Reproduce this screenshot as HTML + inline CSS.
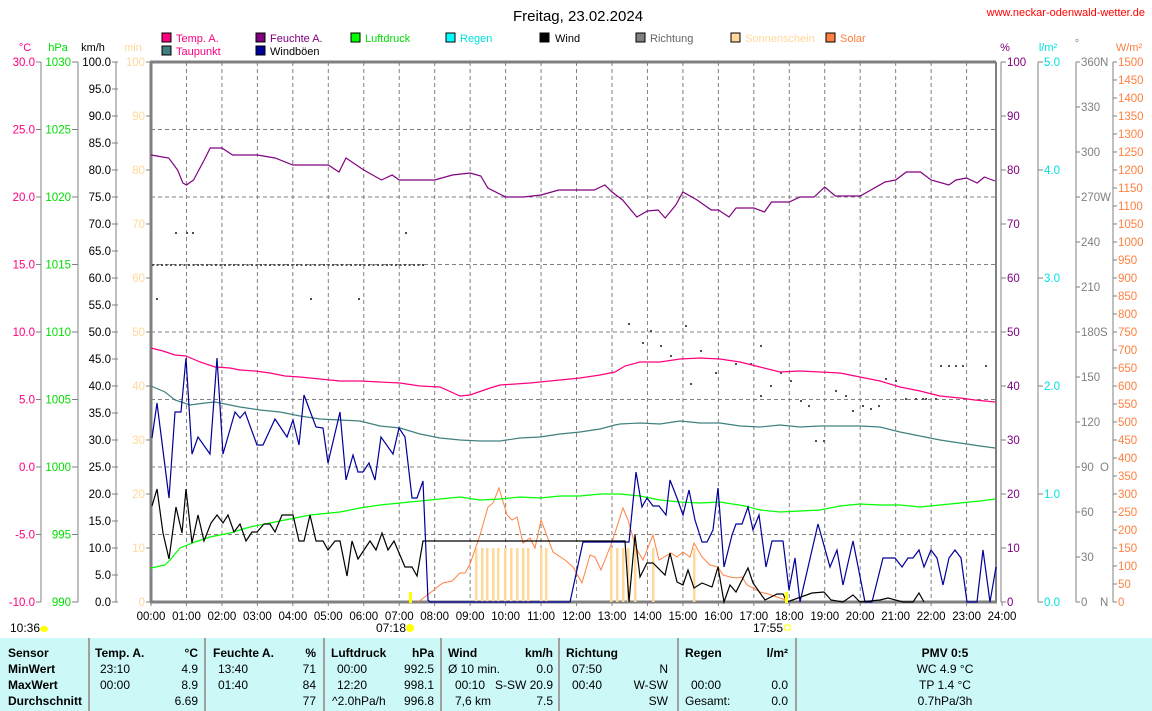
<!DOCTYPE html>
<html><head><meta charset="utf-8"><style>
html,body{margin:0;padding:0;background:#fff;}
svg{display:block;font-family:"Liberation Sans",sans-serif;}
</style></head><body>
<svg id="s" width="1152" height="711" viewBox="0 0 1152 711" xmlns="http://www.w3.org/2000/svg">
<rect width="1152" height="711" fill="#fff"/>
<text x="578" y="21" font-size="15" text-anchor="middle" fill="#000">Freitag, 23.02.2024</text>
<text x="1145" y="16" font-size="11" text-anchor="end" fill="#ff0000">www.neckar-odenwald-wetter.de</text>
<g font-size="11">
<rect x="162" y="33" width="9" height="9" fill="#ff0080" stroke="#000"/><text x="176" y="42" fill="#ff0080">Temp. A.</text>
<rect x="162" y="46" width="9" height="9" fill="#408080" stroke="#000"/><text x="176" y="55" fill="#ff0080">Taupunkt</text>
<rect x="256" y="33" width="9" height="9" fill="#800080" stroke="#000"/><text x="270" y="42" fill="#800080">Feuchte A.</text>
<rect x="256" y="46" width="9" height="9" fill="#000099" stroke="#000"/><text x="270" y="55" fill="#000">Windböen</text>
<rect x="351" y="33" width="9" height="9" fill="#00ff00" stroke="#000"/><text x="365" y="42" fill="#00dd00">Luftdruck</text>
<rect x="446" y="33" width="9" height="9" fill="#00ffff" stroke="#000"/><text x="460" y="42" fill="#00e0e0">Regen</text>
<rect x="540" y="33" width="9" height="9" fill="#000" stroke="#000"/><text x="555" y="42" fill="#000">Wind</text>
<rect x="636" y="33" width="9" height="9" fill="#808080" stroke="#000"/><text x="650" y="42" fill="#666">Richtung</text>
<rect x="731" y="33" width="9" height="9" fill="#ffd89a" stroke="#000"/><text x="745" y="42" fill="#ffd89a">Sonnenschein</text>
<rect x="826" y="33" width="9" height="9" fill="#ff8040" stroke="#000"/><text x="840" y="42" fill="#ff8040">Solar</text>
</g>
<g font-size="11">
<text x="25" y="51" text-anchor="middle" fill="#ff0080">°C</text>
<text x="58" y="51" text-anchor="middle" fill="#00dd00">hPa</text>
<text x="93" y="51" text-anchor="middle" fill="#000">km/h</text>
<text x="133" y="51" text-anchor="middle" fill="#ffd89a">min</text>
<text x="1005" y="51" text-anchor="middle" fill="#800080">%</text>
<text x="1048" y="51" text-anchor="middle" fill="#00e0e0">l/m²</text>
<text x="1077" y="47" text-anchor="middle" fill="#808080">°</text>
<text x="1129" y="51" text-anchor="middle" fill="#ff8040">W/m²</text>
</g>
<g id="grid"></g>
<g id="axes" font-size="11.5"></g>
<g id="data"></g>
<g font-size="12" fill="#000">
<text x="10" y="632">10:36</text><ellipse cx="44" cy="629" rx="4" ry="3" fill="#ffff00"/>
<text x="376" y="632">07:18</text><circle cx="410" cy="628" r="4" fill="#ffff00"/>
<text x="753" y="632">17:55</text><rect x="785" y="625" width="5" height="5" fill="none" stroke="#ffff00"/>
<rect x="409" y="592" width="3" height="11" fill="#ffff00"/>
<rect x="785" y="592" width="3" height="11" fill="#ffff00"/>
</g>
<g id="table"></g>
</svg>
<script>
const NS="http://www.w3.org/2000/svg";
function el(p,t,a,txt){const e=document.createElementNS(NS,t);for(const k in a)e.setAttribute(k,a[k]);if(txt!==undefined)e.textContent=txt;p.appendChild(e);return e;}
const G=document.getElementById('grid'),A=document.getElementById('axes'),D=document.getElementById('data'),T=document.getElementById('table');
const X0=151,HW=35.46,Y0=602,Y1=62;
const hx=h=>X0+HW*h;
for(let i=1;i<8;i++){const y=Y0-67.5*i;el(G,'line',{x1:X0,x2:995,y1:y,y2:y,stroke:'#808080','stroke-dasharray':'4,3'});}
for(let i=1;i<24;i++){const x=hx(i);el(G,'line',{x1:x,x2:x,y1:Y1,y2:Y0,stroke:'#808080','stroke-dasharray':'4,3'});}
el(G,'line',{x1:X0-1,x2:996,y1:Y1,y2:Y1,stroke:'#808080','stroke-width':3});
el(G,'line',{x1:X0,x2:X0,y1:Y1,y2:Y0,stroke:'#808080','stroke-width':3});
el(G,'line',{x1:X0-1,x2:997,y1:Y0,y2:Y0,stroke:'#808080','stroke-width':3});
el(G,'line',{x1:996,x2:996,y1:Y1,y2:Y0,stroke:'#808080','stroke-width':2});
for(let i=0;i<=24;i++){const x=hx(i);el(A,'line',{x1:x,x2:x,y1:Y0,y2:Y0+4,stroke:'#808080'});el(A,'text',{x:x,y:620,'text-anchor':'middle',fill:'#000'},(i<10?'0':'')+i+':00');}
el(A,'line',{x1:41,x2:41,y1:Y1,y2:Y0,stroke:'#808080'});
for(let i=0;i<=8;i++){const y=Y0-67.5*i;el(A,'line',{x1:36,x2:41,y1:y,y2:y,stroke:'#808080'});el(A,'text',{x:35,y:y+4,'text-anchor':'end',fill:'#ff0080'},(-10+5*i).toFixed(1));}
el(A,'line',{x1:78,x2:78,y1:Y1,y2:Y0,stroke:'#808080'});
for(let i=0;i<=8;i++){const y=Y0-67.5*i;el(A,'line',{x1:72,x2:78,y1:y,y2:y,stroke:'#808080'});el(A,'text',{x:71,y:y+4,'text-anchor':'end',fill:'#00dd00'},990+5*i);}
el(A,'line',{x1:116,x2:116,y1:Y1,y2:Y0,stroke:'#808080'});
for(let i=0;i<=20;i++){const y=Y0-27*i;el(A,'line',{x1:112,x2:118,y1:y,y2:y,stroke:'#808080'});el(A,'text',{x:111,y:y+4,'text-anchor':'end',fill:'#000'},(5*i).toFixed(1));}
for(let i=0;i<=10;i++){const y=Y0-54*i;el(A,'line',{x1:146,x2:150,y1:y,y2:y,stroke:'#808080'});el(A,'text',{x:145,y:y+4,'text-anchor':'end',fill:'#ffd89a'},10*i);}
el(A,'line',{x1:1001,x2:1001,y1:Y1,y2:Y0,stroke:'#808080'});
for(let i=0;i<=10;i++){const y=Y0-54*i;el(A,'line',{x1:1001,x2:1006,y1:y,y2:y,stroke:'#808080'});el(A,'text',{x:1007,y:y+4,fill:'#800080'},10*i);}
el(A,'line',{x1:1038,x2:1038,y1:Y1,y2:Y0,stroke:'#808080'});
for(let i=0;i<=5;i++){const y=Y0-108*i;el(A,'line',{x1:1038,x2:1043,y1:y,y2:y,stroke:'#808080'});el(A,'text',{x:1044,y:y+4,fill:'#00e0e0'},i.toFixed(1));}
el(A,'line',{x1:1076,x2:1076,y1:Y1,y2:Y0,stroke:'#808080'});
const dirs={0:'N',3:'O',6:'S',9:'W',12:'N'};
for(let i=0;i<=12;i++){const y=Y0-45*i;el(A,'line',{x1:1076,x2:1080,y1:y,y2:y,stroke:'#808080'});el(A,'text',{x:1081,y:y+4,fill:'#808080'},30*i);if(dirs[i])el(A,'text',{x:1100,y:y+4,fill:'#808080'},dirs[i]);}
el(A,'line',{x1:1113,x2:1113,y1:Y1,y2:Y0,stroke:'#808080'});
for(let i=0;i<=30;i++){const y=Y0-18*i;el(A,'line',{x1:1113,x2:1117,y1:y,y2:y,stroke:'#808080'});el(A,'text',{x:1118,y:y+4,fill:'#ff8040'},50*i);}
[476,482,487,493,498,505,511,517,523,528,541,546,611,617,623,628,635,653,694].forEach(x=>el(D,'rect',{x:x-1,y:548,width:2.5,height:54,fill:'#ffd89a'}));
const dots=[];
for(let x=152;x<425;x+=4.5)dots.push([x,264]);
[[156,298],[175,232],[186,232],[192,232],[310,298],[358,298],[405,232],[628,323],[642,342],[650,330],[660,345],[670,355],[685,325],[700,350],[715,372],[690,383],[735,363],[750,363],[760,395],[770,385],[780,372],[790,380],[800,400],[808,405],[815,440],[823,440],[835,390],[845,395],[852,410],[862,405],[870,408],[878,405],[885,378],[895,380],[905,398],[915,398],[925,398],[940,365],[948,365],[955,365],[962,365],[985,365],[922,398],[935,398],[760,345]].forEach(d=>dots.push(d));
dots.forEach(d=>el(D,'rect',{x:d[0],y:d[1],width:2,height:2,fill:'#505050'}));
function pl(pts,col,w){el(D,'polyline',{points:pts.map(p=>p.join(',')).join(' '),fill:'none',stroke:col,'stroke-width':w||1.2});}
function plh(arr,col){const pts=[];for(let i=0;i<arr.length;i+=2)pts.push([hx(arr[i]),arr[i+1]]);pl(pts,col);}
pl([[418,602],[430,593],[440,585],[443,583],[452,581],[460,573],[465,573],[470,564],[480,535],[488,507],[493,503],[499,488],[507,515],[512,520],[517,517],[523,543],[530,538],[535,548],[541,520],[553,552],[565,560],[573,567],[582,583],[590,555],[595,557],[601,570],[612,542],[623,508],[628,520],[636,548],[643,560],[653,535],[659,560],[671,553],[677,557],[683,552],[690,557],[694,543],[702,557],[710,565],[718,567],[723,575],[730,577],[737,578],[742,577],[747,585],[753,588],[760,592],[768,594],[777,597],[786,600]],'#ff8040',1);
pl([[151,568],[165,565],[170,560],[180,548],[195,542],[210,537],[230,533],[250,527],[270,523],[290,519],[310,515],[320,514],[340,512],[360,508],[380,505],[400,503],[420,501],[440,499],[460,497],[480,500],[500,499],[520,497],[540,498],[560,496],[580,496],[600,494],[620,494],[640,496],[660,500],[680,502],[700,503],[720,502],[745,506],[760,510],[780,512],[800,511],[820,510],[840,506],[860,504],[880,505],[900,505],[920,507],[940,505],[960,503],[980,501],[995,499]],'#00ff00');
pl([[151,386],[165,392],[175,400],[190,405],[205,403],[215,402],[225,404],[240,407],[260,410],[280,412],[300,416],[320,419],[340,420],[360,421],[380,426],[400,428],[420,434],[440,438],[460,440],[480,441],[500,441],[520,438],[540,437],[560,434],[580,432],[600,429],[615,425],[620,424],[640,423],[660,424],[680,421],[700,423],[720,423],[740,426],[760,427],[780,425],[800,427],[820,426],[840,426],[860,426],[880,427],[900,432],[920,436],[940,440],[960,443],[980,446],[995,448]],'#408080');
pl([[151,348],[163,351],[175,355],[186,356],[200,362],[215,367],[230,368],[240,370],[255,371],[270,373],[285,376],[300,377],[320,379],[340,381],[360,381],[380,382],[400,383],[420,386],[440,387],[460,396],[470,395],[490,388],[500,385],[530,383],[560,380],[580,378],[600,375],[615,372],[625,366],[640,362],[660,362],[680,359],[700,358],[720,359],[740,362],[760,367],[780,372],[800,371],[820,372],[840,373],[860,377],[880,381],[900,387],[920,391],[940,396],[960,398],[975,400],[995,402]],'#ff0080');
plh([0,155,0.5,158,0.75,170,0.9,183,1.0,185,1.2,180,1.5,160,1.67,148,2.0,148,2.3,155,3.0,155,3.5,158,4.0,165,4.5,165,5.0,165,5.3,172,5.5,158,6.0,170,6.5,180,6.8,175,7.0,180,8.0,180,8.5,175,9.0,173,9.3,176,9.5,188,10.0,197,10.5,197,11.0,195,11.5,190,12.0,190,12.5,190,12.8,185,13.0,192,13.3,200,13.7,217,14.0,211,14.3,210,14.5,218,14.8,205,15.0,192,15.4,200,15.8,210,16.0,210,16.3,217,16.5,208,17.0,208,17.3,212,17.5,202,18.0,202,18.3,197,18.7,197,19.0,187,19.3,196,19.6,196,20.0,196,20.3,190,20.7,182,21.0,180,21.3,172,21.7,172,22.0,180,22.5,185,22.7,180,23.0,178,23.3,183,23.5,177,23.8,181],'#800080');
pl([[152,438],[157,403],[169,498],[175,412],[181,412],[186,358],[192,454],[198,437],[210,454],[217,358],[223,454],[235,412],[240,418],[245,412],[257,445],[263,445],[275,419],[287,437],[293,420],[299,445],[304,395],[316,427],[323,428],[328,463],[340,412],[346,480],[353,455],[358,472],[363,472],[369,463],[375,480],[381,437],[393,454],[399,428],[405,437],[412,498],[417,498],[423,481],[428,600],[430,602],[570,602],[583,542],[629,542],[636,472],[642,507],[647,498],[653,506],[659,506],[666,515],[670,480],[677,498],[683,515],[689,490],[695,520],[702,542],[707,542],[713,530],[718,488],[724,567],[732,535],[736,524],[742,524],[748,507],[753,530],[759,515],[766,567],[772,541],[783,541],[789,590],[795,558],[800,602],[818,524],[830,567],[837,550],[843,585],[853,541],[865,602],[872,602],[883,558],[895,558],[902,567],[908,558],[913,558],[919,550],[924,567],[931,550],[937,558],[943,585],[949,558],[955,550],[961,558],[967,602],[977,602],[983,550],[990,602],[996,567]],'#000099');
pl([[152,506],[157,489],[163,533],[169,559],[176,507],[182,533],[186,489],[192,543],[198,515],[204,541],[211,523],[217,515],[223,523],[228,515],[234,532],[240,524],[246,541],[252,532],[257,532],[264,524],[270,524],[275,532],[282,515],[293,515],[299,541],[304,541],[310,515],[316,541],[323,541],[328,550],[335,541],[340,541],[347,576],[352,541],[358,559],[364,550],[370,541],[376,550],[382,533],[388,550],[394,541],[405,567],[412,567],[417,576],[423,541],[625,541],[629,602],[635,535],[640,577],[647,563],[653,563],[665,575],[670,553],[677,582],[683,585],[688,570],[694,588],[702,583],[712,587],[718,567],[724,602],[730,585],[736,592],[748,568],[753,583],[765,600],[777,594],[783,594],[787,602],[812,593],[824,592],[831,600],[843,602],[853,595],[860,602],[880,600],[888,598],[903,602],[913,602],[919,593],[924,602]],'#000',1.2);
el(T,'rect',{x:0,y:638,width:1152,height:73,fill:'#ccf8f8'});
[89,205,324,441,559,678,796].forEach(x=>el(T,'rect',{x:x-1,y:638,width:2,height:73,fill:'#a0a0a0'}));
const rows=[657,673,689,705];
function t(x,r,s,opt){const a={x:x,y:rows[r],'font-size':12,fill:'#000'};if(opt&&opt.b)a['font-weight']='bold';if(opt&&opt.e)a['text-anchor']='end';if(opt&&opt.m)a['text-anchor']='middle';el(T,'text',a,s);}
t(8,0,'Sensor',{b:1});t(8,1,'MinWert',{b:1});t(8,2,'MaxWert',{b:1});t(8,3,'Durchschnitt',{b:1});
t(95,0,'Temp. A.',{b:1});t(198,0,'°C',{b:1,e:1});t(100,1,'23:10');t(198,1,'4.9',{e:1});t(100,2,'00:00');t(198,2,'8.9',{e:1});t(198,3,'6.69',{e:1});
t(213,0,'Feuchte A.',{b:1});t(316,0,'%',{b:1,e:1});t(218,1,'13:40');t(316,1,'71',{e:1});t(218,2,'01:40');t(316,2,'84',{e:1});t(316,3,'77',{e:1});
t(331,0,'Luftdruck',{b:1});t(434,0,'hPa',{b:1,e:1});t(337,1,'00:00');t(434,1,'992.5',{e:1});t(337,2,'12:20');t(434,2,'998.1',{e:1});t(332,3,'^2.0hPa/h');t(434,3,'996.8',{e:1});
t(448,0,'Wind',{b:1});t(553,0,'km/h',{b:1,e:1});t(448,1,'Ø 10 min.');t(553,1,'0.0',{e:1});t(455,2,'00:10');t(553,2,'S-SW 20.9',{e:1});t(455,3,'7,6 km');t(553,3,'7.5',{e:1});
t(566,0,'Richtung',{b:1});t(572,1,'07:50');t(668,1,'N',{e:1});t(572,2,'00:40');t(668,2,'W-SW',{e:1});t(668,3,'SW',{e:1});
t(685,0,'Regen',{b:1});t(788,0,'l/m²',{b:1,e:1});t(691,2,'00:00');t(788,2,'0.0',{e:1});t(685,3,'Gesamt:');t(788,3,'0.0',{e:1});
t(945,0,'PMV 0:5',{b:1,m:1});t(945,1,'WC 4.9 °C',{m:1});t(945,2,'TP 1.4 °C',{m:1});t(945,3,'0.7hPa/3h',{m:1});
</script>
</body></html>
